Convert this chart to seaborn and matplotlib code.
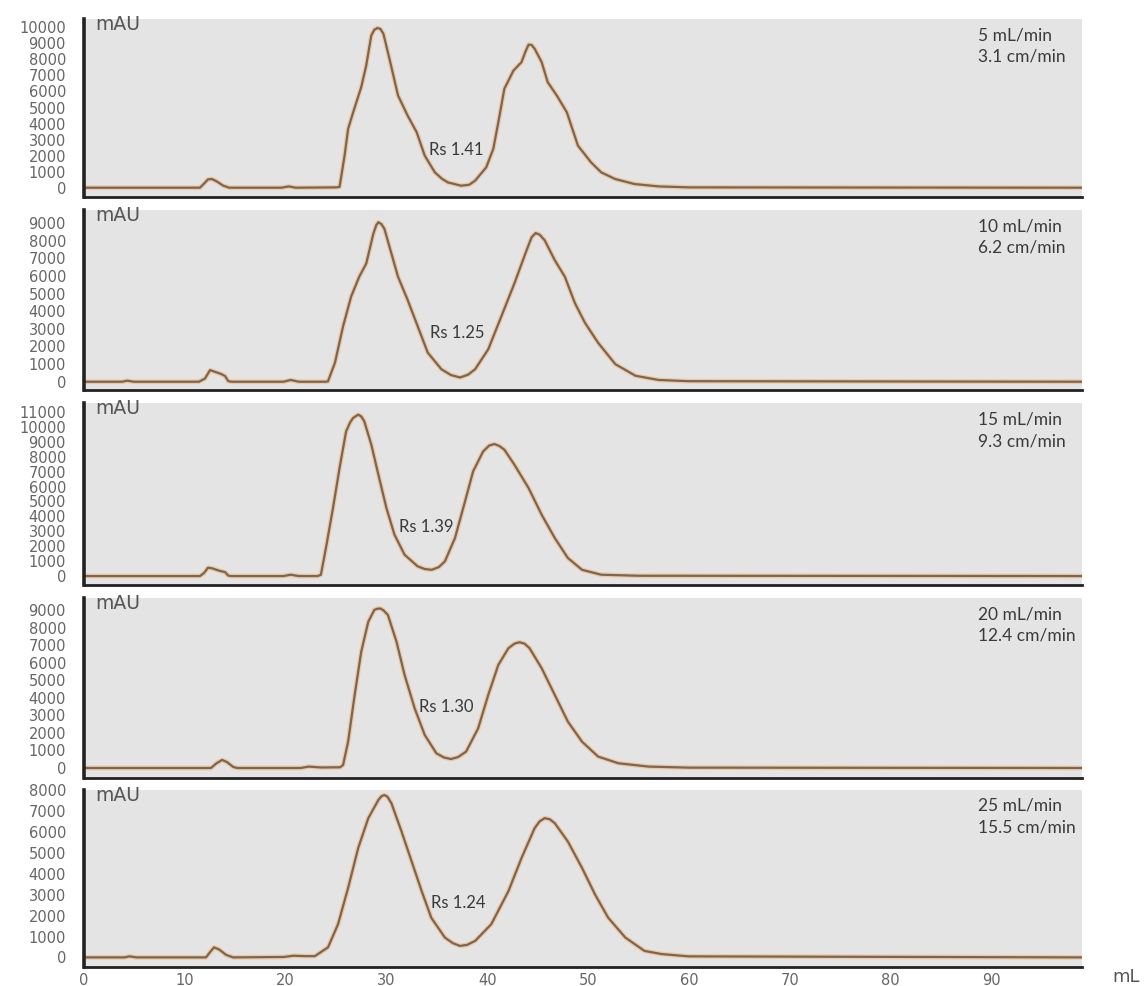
import matplotlib
matplotlib.use("Agg")
import matplotlib.pyplot as plt
import pandas as pd
import seaborn as sns

# ----------------------- Data -----------------------
flow_labels = ["5 mL/min\n3.1 cm/min", "10 mL/min\n6.2 cm/min", "15 mL/min\n9.3 cm/min",
               "20 mL/min\n12.4 cm/min", "25 mL/min\n15.5 cm/min"]
rs_labels = ["Rs 1.41", "Rs 1.25", "Rs 1.39", "Rs 1.30", "Rs 1.24"]

ml_5 = [0, 11.5, 11.9, 12.3, 12.7, 13.2, 13.8, 14.4, 19.6, 20.3, 21.0, 25.0, 25.35, 25.85, 26.2,
        26.7, 27.5, 28.0, 28.5, 28.8, 29.1, 29.4, 29.7, 30.3, 31.15, 32.1, 33.0, 33.8, 34.8, 35.5,
        36.1, 37.4, 38.2, 38.8, 39.9, 40.6, 41.1, 41.7, 42.6, 43.4, 43.8, 44.1, 44.4, 44.7, 45.4,
        46.0, 46.9, 47.9, 49.0, 50.3, 51.3, 52.7, 54.6, 57.0, 60.0, 99]
mau_5 = [0, 0, 250, 520, 540, 380, 130, 0, 0, 80, 0, 20, 50, 2000, 3670,
         4700, 6270, 7630, 9500, 9850, 9960, 9900, 9600, 8040, 5750, 4500, 3460, 2000, 960, 560,
         330, 125, 180, 440, 1270, 2420, 4080, 6170, 7300, 7830, 8500, 8920, 8900, 8670, 7830,
         6580, 5750, 4700, 2620, 1580, 960, 540, 230, 80, 20, 0]

ml_10 = [0, 3.8, 4.3, 4.9, 11.4, 12.0, 12.5, 13.0, 13.6, 14.0, 14.3, 14.6, 19.8, 20.5, 21.3,
         24.0, 24.2, 24.9, 25.7, 26.5, 27.3, 28.0, 28.7, 29.0, 29.2, 29.5, 29.8, 30.5, 31.15, 32.1,
         33.1, 34.1, 35.45, 36.4, 37.3, 38.1, 38.8, 40.1, 41.4, 42.7, 43.9, 44.4, 44.8, 45.2, 45.7,
         46.7, 47.7, 48.7, 49.7, 51.0, 52.7, 54.7, 57.0, 60.0, 99]
mau_10 = [0, 0, 60, 0, 0, 180, 660, 560, 440, 320, 40, 0, 0, 100, 0,
          0, 20, 1090, 3150, 4840, 5960, 6710, 8400, 8900, 9055, 8950, 8680, 7270, 5960, 4650,
          3150, 1650, 710, 380, 240, 400, 710, 1840, 3710, 5590, 7460, 8200, 8440, 8350, 8030,
          6900, 5960, 4460, 3340, 2210, 1000, 340, 100, 30, 0]

ml_15 = [0, 11.5, 11.9, 12.3, 12.7, 13.4, 14.0, 14.3, 14.6, 19.8, 20.5, 21.3, 23.2, 23.5, 24.0,
         24.7, 25.35, 26.0, 26.4, 26.7, 27.2, 27.5, 27.8, 28.5, 29.2, 30.0, 30.8, 31.8, 33.1,
         33.8, 34.5, 35.2, 35.8, 36.8, 37.8, 38.6, 39.6, 40.2, 40.7, 41.2, 41.7, 42.7, 44.1, 45.4,
         46.7, 48.0, 49.4, 51.3, 55.0, 99]
mau_15 = [0, 0, 200, 560, 520, 360, 260, 30, 0, 0, 90, 0, 0, 90, 1880,
          4560, 7240, 9700, 10300, 10600, 10820, 10700, 10380, 8810, 6800, 4560, 2770, 1430, 650,
          470, 420, 600, 985, 2550, 5010, 7020, 8360, 8750, 8850, 8720, 8470, 7460, 5900, 4110,
          2550, 1210, 420, 90, 20, 0]

ml_20 = [0, 12.6, 13.1, 13.7, 14.2, 14.8, 15.2, 21.5, 22.3, 23.5, 25.4, 25.7, 26.2, 26.85, 27.5,
         28.2, 28.8, 29.1, 29.4, 29.7, 30.15, 31.0, 31.8, 32.8, 33.8, 34.95, 35.7, 36.4, 37.1,
         37.9, 39.1, 40.1, 41.1, 42.1, 42.7, 43.2, 43.7, 44.2, 45.4, 46.7, 48.0, 49.4, 51.0, 53.0,
         56.0, 60.0, 99]
mau_20 = [0, 0, 250, 460, 330, 60, 0, 0, 80, 30, 40, 170, 1500, 4160, 6620,
          8330, 9000, 9070, 9080, 8980, 8710, 7190, 5300, 3400, 1880, 840, 600, 510, 620,
          930, 2260, 4160, 5870, 6820, 7080, 7160, 7080, 6820, 5680, 4160, 2640, 1500, 650, 270,
          80, 20, 0]

ml_25 = [0, 4.0, 4.5, 5.2, 12.1, 12.5, 12.9, 13.4, 14.1, 14.8, 19.8, 20.8, 22.0, 22.9, 24.2,
         25.2, 26.2, 27.2, 28.2, 29.2, 29.5, 29.8, 30.1, 30.5, 31.5, 32.5, 33.5, 34.45, 35.8, 36.6,
         37.3, 38.0, 38.8, 40.4, 42.1, 43.4, 44.7, 45.2, 45.7, 46.2, 46.7, 48.0, 49.4, 50.7, 52.0,
         53.7, 55.6, 57.3, 60.0, 99]
mau_25 = [0, 0, 50, 0, 0, 250, 480, 380, 120, 0, 20, 80, 60, 60, 480,
          1590, 3330, 5240, 6670, 7540, 7720, 7780, 7700, 7380, 6030, 4600, 3170, 1900, 950, 680,
          550, 600, 790, 1590, 3170, 4760, 6190, 6520, 6670, 6620, 6430, 5550, 4290, 3010, 1900,
          950, 310, 160, 50, 0]

y_tick_max = [10000, 9000, 11000, 9000, 8000]
y_limits = [(-580, 10520), (-470, 9750), (-600, 11600), (-570, 9680), (-460, 8020)]
rs_pos = [(36.9, 2350), (37.0, 2740), (34.0, 3290), (35.9, 3450), (37.1, 2610)]

series = [(ml_5, mau_5), (ml_10, mau_10), (ml_15, mau_15), (ml_20, mau_20), (ml_25, mau_25)]

# ----------------------- Figure -----------------------
sns.set_style("white")
plt.rcParams['font.family'] = ['DejaVu Sans']

fig = plt.figure(figsize=(11.48, 9.86), dpi=100)
W, H = 1148, 986
left_px, right_px = 84, 1082
panel_px = [(19, 197), (210, 390), (403, 585), (598, 778), (790, 967)]

label_font = ['Lato', 'DejaVu Sans']
spine_col = "#222222"
tick_lab_col = "#666666"

for i, ((xs, ys), (top, bot)) in enumerate(zip(series, panel_px)):
    ax = fig.add_axes([left_px / W, 1 - bot / H, (right_px - left_px) / W, (bot - top) / H])
    ax.set_facecolor("#e4e4e4")
    df = pd.DataFrame({"mL": xs, "mAU": ys})
    # light halo under a darker brown trace, like the scanned original
    sns.lineplot(data=df, x="mL", y="mAU", ax=ax, color="#ecc9a6", linewidth=3.4, estimator=None)
    sns.lineplot(data=df, x="mL", y="mAU", ax=ax, color="#7d6550", linewidth=1.6, estimator=None)

    ax.set_xlim(0, 99)
    ax.set_ylim(*y_limits[i])
    ax.set_xlabel("")
    ax.set_ylabel("")

    for s in ["top", "right"]:
        ax.spines[s].set_visible(False)
    ax.spines["left"].set_linewidth(2.6)
    ax.spines["bottom"].set_linewidth(2.0)
    ax.spines["left"].set_color(spine_col)
    ax.spines["bottom"].set_color(spine_col)

    ax.set_yticks(range(0, y_tick_max[i] + 1, 1000))
    ax.set_yticks(list(y_limits[i]), minor=True)
    ax.set_xticks(range(0, 100, 10))
    ax.set_xticks([99], minor=True)
    ax.tick_params(axis="y", which="major", direction="out", length=10, width=1.6,
                   color=spine_col, labelcolor=tick_lab_col, labelsize=10.5, pad=3)
    ax.tick_params(axis="y", which="minor", direction="out", length=8, width=1.6, color=spine_col)
    ax.tick_params(axis="x", which="both", direction="out", length=3.5, width=2.0,
                   color=spine_col, labelcolor=tick_lab_col, labelsize=10.5, pad=0.5)
    if i < 4:
        ax.tick_params(axis="x", labelbottom=False)

    ax.text(0.011, 1.02, "mAU", transform=ax.transAxes, ha="left", va="top",
            fontsize=13.5, color="#555555")
    ax.text(0.896, 0.955, flow_labels[i], transform=ax.transAxes, ha="left", va="top",
            fontsize=12.5, color="#3a3a3a", family=label_font, linespacing=1.45)
    ax.text(rs_pos[i][0], rs_pos[i][1], rs_labels[i], ha="center", va="center",
            fontsize=12, color="#3a3a3a", family=label_font)

fig.text(1112 / W, 1 - 977 / H, "mL", ha="left", va="center", fontsize=13, color="#555555")

fig.savefig("out.png", dpi=100)
